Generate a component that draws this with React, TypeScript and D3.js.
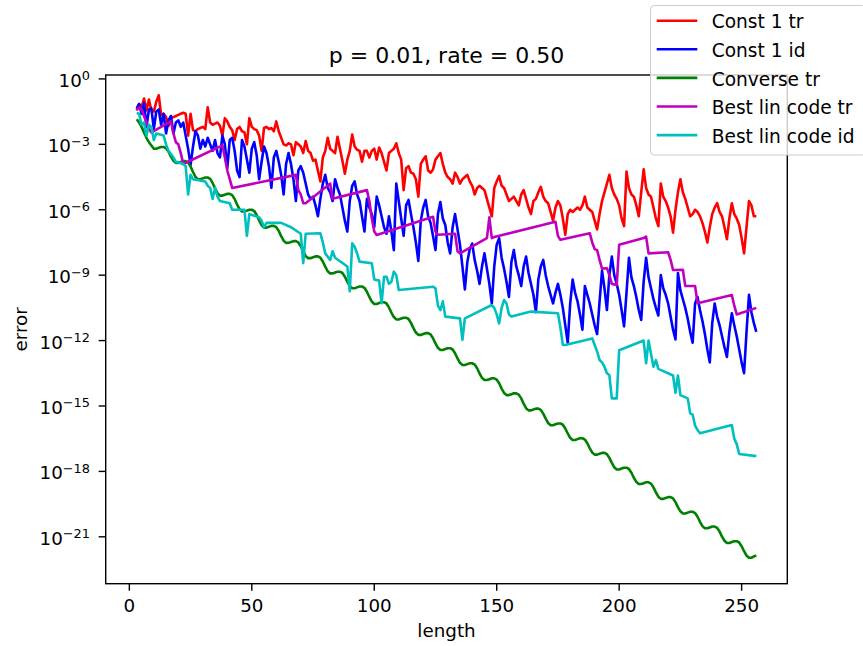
import React from 'react';
import * as d3 from 'd3';

const W = 863;
const H = 646;
const firstLength = 3;

// log10(error) per length, lengths 3..256
const constTrExp = [
  -1.45, -1.15, -1.3, -0.9, -1.45, -0.95, -1.45, -1.5, -1.05, -0.75,
  -1.65, -1.6, -1.75, -2.15, -1.8, -1.75, -1.7, -1.65, -1.6, -1.55,
  -1.6, -2.6, -1.6, -2.35, -2.4, -2.3, -2.25, -2.2, -2.3, -1.3,
  -2.0, -2.1, -2.05, -2.0, -2.15, -2.6, -1.8, -1.95, -2.2, -2.35,
  -2.8, -2.3, -2.2, -2.4, -2.45, -3.0, -1.8, -2.2, -2.3, -2.35,
  -2.6, -3.3, -2.25, -2.2, -2.3, -2.25, -2.4, -1.95, -2.4, -2.7,
  -3.0, -3.05, -2.95, -3.0, -3.5, -2.9, -3.0, -3.1, -3.4, -2.85,
  -3.3, -3.4, -3.75, -3.7, -4.2, -4.7, -3.6, -3.3, -2.7, -3.2,
  -3.3, -3.4, -2.65, -3.2, -3.75, -4.35, -3.7, -3.3, -2.55, -3.1,
  -3.25, -3.3, -3.8, -3.3, -3.3, -3.6, -3.3, -3.2, -3.7, -3.15,
  -3.4, -3.8, -4.2, -3.4, -3.3, -3.2, -2.95, -3.4, -3.7, -5.1,
  -4.1, -4.0, -4.3, -4.35, -4.6, -5.4, -3.9, -3.7, -3.55, -4.2,
  -4.3, -4.15, -3.7, -3.55, -3.4, -3.9, -4.3, -4.5, -4.6, -4.8,
  -4.3, -4.5, -4.8, -4.6, -4.5, -4.4, -4.7, -4.9, -5.3, -5.0,
  -4.9, -5.0, -5.1, -5.5, -5.9, -6.3, -5.0, -4.7, -4.45, -4.9,
  -5.0, -5.3, -5.6, -5.5, -5.4, -5.6, -5.8, -5.3, -5.1, -5.5,
  -5.9, -6.2, -5.6, -5.5, -5.2, -4.95, -5.4, -5.6, -5.7, -6.1,
  -6.5, -5.9, -5.6, -5.8, -6.4, -7.15, -6.2, -6.0, -6.1, -6.0,
  -5.9, -6.0, -5.8, -5.4, -5.9, -6.0, -6.1, -6.5, -6.9, -6.2,
  -5.6, -5.2, -4.8, -4.4, -5.0, -5.3, -5.5, -5.8, -6.4, -6.75,
  -4.25, -5.0, -5.3, -5.4, -5.8, -6.3, -5.2, -4.15, -5.0, -5.3,
  -5.4, -5.9, -6.4, -6.75, -4.8, -5.4, -5.6, -5.9, -6.3, -7.05,
  -6.0, -5.2, -4.6, -5.2, -5.5, -5.9, -6.3, -6.2, -6.0, -6.1,
  -6.3, -6.6, -7.0, -7.5, -6.8, -6.2, -5.9, -5.7, -6.1, -6.3,
  -6.8, -7.35, -6.4, -5.7, -6.2, -6.4, -6.7, -7.3, -8.0, -6.8,
  -5.6, -5.8, -6.3, -6.3,
];

const constIdExp = [
  -1.35, -1.15, -1.6, -1.1, -2.2, -1.4, -1.35, -2.3, -1.5, -1.4,
  -2.1, -1.6, -2.5, -1.9, -1.7, -2.5, -2.0, -1.9, -2.2, -2.0,
  -2.6, -3.2, -3.95, -3.1, -2.4, -2.6, -3.2, -2.8, -3.1, -2.7,
  -3.0, -3.3, -2.8, -3.4, -3.6, -2.6, -3.0, -4.1, -2.8, -2.7,
  -3.3, -4.2, -4.5, -2.8, -3.1, -3.7, -4.3, -3.2, -2.9, -3.5,
  -4.6, -3.8, -3.1, -3.4, -4.0, -5.0, -3.6, -3.3, -3.8, -4.4,
  -5.3, -3.9, -3.4, -3.9, -4.6, -5.6, -4.2, -4.0, -4.3, -4.8,
  -5.3, -5.5, -5.4, -5.8, -6.3, -5.5, -4.8, -4.4, -5.0, -5.2,
  -5.6, -4.6, -5.0, -5.3, -5.9, -6.5, -7.0, -5.6, -4.9, -4.7,
  -5.3, -5.6, -6.3, -7.0, -5.5, -5.9, -6.2, -6.8, -5.4, -5.8,
  -6.3, -6.8, -7.1, -6.3, -7.0, -7.85, -4.8, -5.6, -6.4, -7.2,
  -5.8, -5.55, -6.2, -6.8, -7.5, -8.35, -6.5, -5.9, -5.55, -6.3,
  -6.6, -7.2, -7.85, -6.2, -5.65, -6.4, -6.7, -7.5, -8.0, -6.8,
  -6.2, -6.9, -7.6, -8.6, -9.65, -8.4, -7.8, -7.55, -8.3, -8.8,
  -9.4, -8.6, -8.0, -8.7, -9.4, -10.3, -8.6, -7.6, -7.3, -8.2,
  -8.7, -9.3, -10.0, -8.4, -7.85, -8.6, -9.0, -9.5, -8.6, -8.15,
  -8.9, -9.4, -9.9, -10.7, -9.2, -8.6, -8.3, -9.0, -9.5, -9.9,
  -10.3, -9.8, -9.4, -9.9, -10.5, -11.3, -12.1, -10.3, -9.2, -9.8,
  -10.2, -10.8, -11.5, -9.5, -9.9, -10.3, -10.8, -11.3, -11.7, -10.2,
  -8.8, -9.6, -10.6, -9.0, -8.15, -9.0, -9.4, -9.9, -10.6, -11.35,
  -9.8, -8.2, -9.1, -9.5, -10.0, -10.6, -11.05, -9.3, -8.2, -9.1,
  -9.6, -10.1, -10.5, -10.85, -9.0, -9.6, -9.9, -10.3, -10.9, -11.5,
  -11.95, -8.9, -9.7, -10.1, -10.5, -11.0, -11.6, -12.1, -10.3, -10.0,
  -10.6, -11.1, -11.7, -12.4, -13.0, -11.2, -10.3, -10.9, -11.3, -11.8,
  -12.3, -12.75, -11.6, -10.75, -11.3, -11.8, -12.4, -13.0, -13.5, -11.6,
  -9.9, -10.7, -11.2, -11.6,
];

const converseTrExp = [
  -1.85, -2.0, -2.2, -2.45, -2.7, -2.9, -3.05, -3.2, -3.2, -3.16,
  -3.12, -3.12, -3.18, -3.34, -3.56, -3.75, -3.85, -3.85, -3.81, -3.77,
  -3.77, -3.83, -4.02, -4.27, -4.49, -4.6, -4.6, -4.56, -4.52, -4.52,
  -4.58, -4.77, -5.02, -5.24, -5.35, -5.35, -5.31, -5.27, -5.27, -5.33,
  -5.51, -5.76, -5.97, -6.08, -6.08, -6.04, -6.0, -6.0, -6.06, -6.24,
  -6.49, -6.71, -6.82, -6.82, -6.78, -6.74, -6.74, -6.8, -6.97, -7.21,
  -7.42, -7.52, -7.52, -7.48, -7.44, -7.44, -7.5, -7.67, -7.91, -8.12,
  -8.22, -8.22, -8.18, -8.14, -8.14, -8.2, -8.37, -8.61, -8.82, -8.92,
  -8.92, -8.88, -8.84, -8.84, -8.9, -9.07, -9.3, -9.5, -9.6, -9.6,
  -9.56, -9.52, -9.52, -9.58, -9.76, -10.0, -10.21, -10.32, -10.32, -10.28,
  -10.24, -10.24, -10.3, -10.48, -10.72, -10.92, -11.03, -11.03, -10.99, -10.95,
  -10.95, -11.01, -11.19, -11.43, -11.63, -11.74, -11.74, -11.7, -11.66, -11.66,
  -11.72, -11.89, -12.13, -12.33, -12.43, -12.43, -12.39, -12.35, -12.35, -12.41,
  -12.58, -12.82, -13.02, -13.12, -13.12, -13.08, -13.04, -13.04, -13.1, -13.27,
  -13.51, -13.71, -13.81, -13.81, -13.77, -13.73, -13.73, -13.79, -13.96, -14.2,
  -14.4, -14.5, -14.5, -14.46, -14.42, -14.42, -14.48, -14.65, -14.89, -15.1,
  -15.2, -15.2, -15.16, -15.12, -15.12, -15.18, -15.35, -15.58, -15.78, -15.88,
  -15.88, -15.84, -15.8, -15.8, -15.86, -16.03, -16.26, -16.46, -16.56, -16.56,
  -16.52, -16.48, -16.48, -16.54, -16.71, -16.94, -17.13, -17.23, -17.23, -17.19,
  -17.15, -17.15, -17.21, -17.38, -17.61, -17.81, -17.91, -17.91, -17.87, -17.83,
  -17.83, -17.89, -18.06, -18.29, -18.48, -18.58, -18.58, -18.54, -18.5, -18.5,
  -18.56, -18.73, -18.96, -19.16, -19.26, -19.26, -19.22, -19.18, -19.18, -19.24,
  -19.41, -19.64, -19.83, -19.93, -19.93, -19.89, -19.85, -19.85, -19.91, -20.08,
  -20.31, -20.51, -20.61, -20.61, -20.57, -20.53, -20.53, -20.59, -20.76, -20.99,
  -21.18, -21.28, -21.28, -21.24, -21.2, -21.2, -21.26, -21.43, -21.66, -21.86,
  -21.96, -21.96, -21.9, -21.85,
];

// step-like series: vertices (length, log10 error)
const bestTrLen = [3, 4, 5, 6, 7, 8, 9, 17, 18, 19, 20, 21, 22, 38, 39, 40, 41, 42, 68, 69, 70, 71, 72, 82, 83, 97, 98, 99, 100, 101, 124, 125, 126, 133, 134, 135, 146, 147, 148, 149, 174, 175, 176, 188, 189, 190, 191, 192, 193, 195, 196, 197, 199, 200, 210, 211, 212, 220, 221, 222, 226, 227, 231, 232, 246, 247, 248, 256];
const bestTrExp = [-1.42, -1.3, -1.4, -1.7, -2.0, -2.3, -2.45, -1.95, -2.5, -2.9, -3.0, -3.4, -3.9, -3.05, -3.6, -4.2, -4.6, -5.0, -4.4, -5.1, -5.3, -5.7, -5.7, -4.8, -5.5, -5.1, -5.6, -6.4, -7.0, -7.16, -6.32, -7.0, -7.15, -7.1, -7.9, -8.0, -7.3, -6.35, -7.3, -7.25, -6.55, -7.2, -7.38, -7.08, -7.5, -7.8, -7.85, -8.3, -8.7, -8.68, -9.0, -9.4, -9.45, -7.6, -7.3, -7.23, -8.0, -7.95, -8.3, -8.76, -8.75, -9.5, -9.5, -10.29, -9.91, -10.4, -10.8, -10.5];

const bestIdLen = [3, 4, 5, 6, 7, 8, 9, 10, 11, 14, 15, 16, 17, 18, 19, 22, 23, 24, 25, 26, 31, 32, 33, 34, 35, 36, 37, 41, 42, 47, 48, 49, 53, 54, 55, 56, 62, 66, 70, 71, 72, 78, 79, 80, 82, 83, 84, 89, 90, 91, 92, 93, 94, 99, 100, 102, 103, 104, 105, 106, 107, 108, 109, 110, 124, 125, 126, 127, 128, 129, 135, 136, 137, 148, 149, 150, 151, 152, 153, 154, 155, 156, 164, 175, 176, 177, 178, 189, 190, 191, 192, 193, 194, 195, 196, 197, 199, 200, 210, 211, 212, 213, 214, 215, 216, 222, 223, 224, 225, 228, 229, 230, 231, 232, 233, 246, 247, 248, 249, 256];
const bestIdExp = [-1.56, -1.6, -2.1, -2.0, -2.6, -2.1, -2.2, -2.8, -2.5, -2.6, -3.0, -3.3, -3.45, -3.6, -3.8, -3.9, -4.0, -5.3, -4.4, -4.6, -4.7, -4.9, -5.0, -5.5, -5.0, -5.4, -5.6, -5.7, -6.0, -6.0, -7.2, -6.2, -6.35, -6.5, -6.8, -6.6, -6.6, -6.8, -7.1, -8.45, -7.1, -7.08, -7.5, -8.0, -8.3, -7.9, -8.2, -8.6, -9.74, -7.54, -7.7, -8.0, -8.38, -8.45, -9.2, -9.25, -10.29, -9.07, -9.07, -9.4, -9.3, -8.84, -9.0, -9.68, -9.53, -9.6, -10.4, -10.6, -10.2, -10.9, -10.98, -11.97, -10.98, -10.37, -10.5, -10.8, -11.21, -10.5, -10.14, -10.3, -10.8, -10.9, -10.67, -10.75, -11.4, -12.2, -12.2, -11.9, -12.2, -12.5, -12.89, -13.0, -13.2, -13.5, -13.58, -14.65, -14.65, -12.44, -12.0, -13.04, -12.0, -12.6, -13.2, -12.9, -13.3, -13.6, -14.4, -13.6, -14.5, -14.65, -15.34, -15.4, -15.9, -16.1, -16.25, -15.87, -16.5, -16.75, -17.2, -17.3];

const seriesNames = ['Const 1 tr', 'Const 1 id', 'Converse tr', 'Best lin code tr', 'Best lin code id'];
const seriesColors = ['#ff0000', '#0000ff', '#008000', '#bf00bf', '#00bfbf'];
const xTickValues = [0, 50, 100, 150, 200, 250];
const yTickExps = [0, -3, -6, -9, -12, -15, -18, -21];
const titleText = 'p = 0.01, rate = 0.50';
const xLabel = 'length';
const yLabel = 'error';

const FONT = 'DejaVu Sans, Liberation Sans, sans-serif';

export default function App() {
  const left = 105.7, right = 787.3, top = 75, bottom = 583.7;
  const x = d3.scaleLinear().domain([-9.65, 268.65]).range([left, right]);
  const y = d3.scaleLog().domain([Math.pow(10, -23.15), Math.pow(10, 0.18)]).range([bottom, top]);
  const line = d3.line<[number, number]>()
    .x((d) => x(d[0]))
    .y((d) => y(Math.pow(10, d[1])));

  const full = (arr: number[]) => arr.map((e, i) => [i + firstLength, e] as [number, number]);
  const pairs = (xs: number[], es: number[]) => xs.map((v, i) => [v, es[i]] as [number, number]);
  const series = [
    full(constTrExp),
    full(constIdExp),
    full(converseTrExp),
    pairs(bestTrLen, bestTrExp),
    pairs(bestIdLen, bestIdExp),
  ];

  const legendX = 650.5, legendY = 5.5;
  const rowY0 = 20.7, rowStep = 28.6;

  return (
    <svg width={W} height={H} style={{ position: 'absolute', left: 0, top: 0, background: '#fff' }} fontFamily={FONT}>
      <rect x={0} y={0} width={W} height={H} fill="#fff" />
      <defs>
        <clipPath id="axclip">
          <rect x={left} y={top} width={right - left} height={bottom - top} />
        </clipPath>
      </defs>
      <g clipPath="url(#axclip)">
        {series.map((s, i) => (
          <path key={i} d={line(s) || ''} fill="none" stroke={seriesColors[i]} strokeWidth={2.6} strokeLinejoin="round" />
        ))}
      </g>
      <rect x={left} y={top} width={right - left} height={bottom - top} fill="none" stroke="#000" strokeWidth={1.4} />
      {xTickValues.map((v) => (
        <g key={v}>
          <line x1={x(v)} x2={x(v)} y1={bottom} y2={bottom + 7} stroke="#000" strokeWidth={1.4} />
          <text x={x(v)} y={612.3} textAnchor="middle" fontSize={18.3} fill="#000">{v}</text>
        </g>
      ))}
      {yTickExps.map((e) => {
        const ty = y(Math.pow(10, e));
        return (
          <g key={e}>
            <line x1={left - 7} x2={left} y1={ty} y2={ty} stroke="#000" strokeWidth={1.4} />
            <text x={90} y={ty + 8} textAnchor="end" fontSize={18.3} fill="#000">
              10<tspan dy={-6.6} fontSize={12.9}>{e === 0 ? '0' : '\u2212' + Math.abs(e)}</tspan>
            </text>
          </g>
        );
      })}
      <text x={(left + right) / 2} y={637} textAnchor="middle" fontSize={18.3} fill="#000">{xLabel}</text>
      <text transform={`translate(27,${(top + bottom) / 2}) rotate(-90)`} textAnchor="middle" fontSize={18.3} fill="#000">{yLabel}</text>
      <text x={(left + right) / 2} y={63} textAnchor="middle" fontSize={22} fill="#000">{titleText}</text>
      <g>
        <rect x={legendX} y={legendY} width={216} height={149.5} rx={4} fill="#fff" fillOpacity={0.8} stroke="#cccccc" strokeWidth={1} />
        {seriesNames.map((name, i) => {
          const ry = rowY0 + i * rowStep;
          return (
            <g key={name}>
              <line x1={656.7} x2={697.3} y1={ry} y2={ry} stroke={seriesColors[i]} strokeWidth={2.6} />
              <text x={711.7} y={ry + 7.6} fontSize={18.6} fill="#000">{name}</text>
            </g>
          );
        })}
      </g>
    </svg>
  );
}
